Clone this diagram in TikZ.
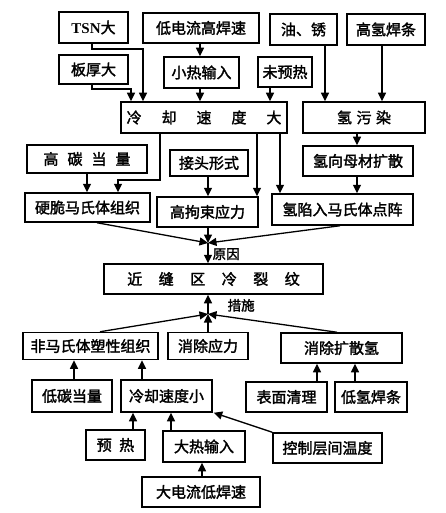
\documentclass[tikz,border=0pt]{standalone}
\usepackage{fontspec}
\setmainfont{Liberation Serif}
\newfontfamily\cjk{Noto Sans CJK SC}[FakeBold=2]
\usetikzlibrary{arrows.meta}
\newcommand\bx[6]{\node[box,minimum width=#4pt,minimum height=#5pt] (#1) at (#2,#3) {#6};}
\begin{document}
\begin{tikzpicture}[x=1pt,y=-1pt,
  box/.style={draw,line width=1.5pt,inner sep=0pt,font=\cjk\fontsize{15}{15}\selectfont},
  arr/.style={line width=1.3pt,-{Triangle[width=8pt,length=8.5pt]}},
  lbl/.style={font=\cjk\fontsize{13.5}{13.5}\selectfont,inner sep=0pt}]
\useasboundingbox (0,0) rectangle (445,513);
% top row
\bx{tsn}{93.5}{27.5}{69}{31}{{\rmfamily\bfseries TSN}大}
\bx{ldl}{201}{28}{116}{30}{低电流高焊速}
\bx{you}{303.5}{29.5}{67}{31}{油、锈}
\bx{gqhj}{386}{29.5}{78}{31}{高氢焊条}
\bx{bhd}{93.5}{69.5}{69}{29}{板厚大}
\bx{xrs}{201.5}{72.5}{75}{31}{小热输入}
\bx{wyr}{285}{72}{54}{30}{未预热}
\bx{lqd}{204}{117.5}{166}{31}{冷\hspace{1.33em}却\hspace{1.33em}速\hspace{1.33em}度\hspace{1.33em}大}
\bx{qwr}{364}{117.5}{122}{31}{氢\hspace{0.3em}污\hspace{0.3em}染}
\bx{gtd}{87}{159}{120}{28}{高\hspace{0.6em}碳\hspace{0.6em}当\hspace{0.6em}量}
\bx{jtxs}{209}{163}{78}{26}{接头形式}
\bx{qxk}{358}{161}{110}{30}{氢向母材扩散}
\bx{ycm}{87.5}{207.5}{125}{29}{硬脆马氏体组织}
\bx{gjs}{207.5}{212}{101}{30}{高拘束应力}
\bx{qxr}{342.5}{209.5}{141}{31}{氢陷入马氏体点阵}
\bx{jfq}{213.5}{279}{219}{30}{近\hspace{1.1em}缝\hspace{1.1em}区\hspace{1.1em}冷\hspace{1.1em}裂\hspace{1.1em}纹}
\bx{fms}{90.5}{346}{135}{27}{非马氏体塑性组织}
\bx{xcyl}{208}{346}{80}{27}{消除应力}
\bx{xckq}{341.5}{348}{121}{30}{消除扩散氢}
\bx{dtd}{72}{396}{80}{32}{低碳当量}
\bx{lqx}{166.5}{396}{91}{32}{冷却速度小}
\bx{bmql}{286.5}{397}{81}{30}{表面清理}
\bx{dqhj}{371}{397}{72}{30}{低氢焊条}
\bx{yr}{115.5}{445}{59}{30}{预\hspace{0.5em}热}
\bx{drs}{204}{446.5}{82}{31}{大热输入}
\bx{kz}{327.5}{448}{109}{30}{控制层间温度}
\bx{ddl}{201}{492}{118}{30}{大电流低焊速}
\coordinate (J1) at (208,243);
\coordinate (J2) at (208,314);
% connectors, upper half
\draw[arr] (tsn.south -| 92,0) |- (143,49) -- (lqd.north -| 143,0);
\draw[arr] (bhd.south -| 92,0) |- (131,89) -- (lqd.north -| 131,0);
\draw[arr] (ldl.south -| 200,0) -- (xrs.north -| 200,0);
\draw[arr] (xrs.south -| 200,0) -- (lqd.north -| 200,0);
\draw[arr] (wyr.south -| 270,0) -- (lqd.north -| 270,0);
\draw[arr] (you.south -| 325,0) -- (qwr.north -| 325,0);
\draw[arr] (gqhj.south -| 382,0) -- (qwr.north -| 382,0);
\draw[arr] (lqd.south -| 160,0) |- (118,180) -- (ycm.north -| 118,0);
\draw[arr] (gtd.south -| 87,0) -- (ycm.north -| 87,0);
\draw[arr] (jtxs.south -| 208,0) -- (gjs.north -| 208,0);
\draw[arr] (lqd.south -| 257,0) -- (gjs.north -| 257,0);
\draw[arr] (lqd.south -| 280,0) -- (qxr.north -| 280,0);
\draw[arr] (qwr.south -| 357,0) -- (qxk.north -| 357,0);
\draw[arr] (qxk.south -| 357,0) -- (qxr.north -| 357,0);
\draw[arr] (ycm.south -| 97,0) -- (J1);
\draw[arr] (gjs.south -| 208,0) -- (J1);
\draw[arr] (qxr.south -| 340,0) -- (J1);
\draw[arr] (J1) -- (jfq.north -| 208,0) node[lbl,pos=0.55,right=4pt] {原因};
% lower half
\draw[arr] (J2) -- (jfq.south -| 208,0) node[lbl,pos=0.45,right=19pt] {措施};
\draw[arr] (fms.north -| 100,0) -- (J2);
\draw[arr] (xcyl.north -| 208,0) -- (J2);
\draw[arr] (xckq.north -| 337,0) -- (J2);
\draw[arr] (dtd.north -| 74,0) -- (fms.south -| 74,0);
\draw[arr] (lqx.north -| 142,0) -- (fms.south -| 142,0);
\draw[arr] (bmql.north -| 317,0) -- (xckq.south -| 317,0);
\draw[arr] (dqhj.north -| 355,0) -- (xckq.south -| 355,0);
\draw[arr] (yr.north -| 133,0) -- (lqx.south -| 133,0);
\draw[arr] (drs.north -| 171,0) -- (lqx.south -| 171,0);
\draw[arr] (kz.north west) -- ([xshift=1pt]lqx.south east);
\draw[arr] (ddl.north -| 202,0) -- (drs.south -| 202,0);
\end{tikzpicture}
\end{document}
